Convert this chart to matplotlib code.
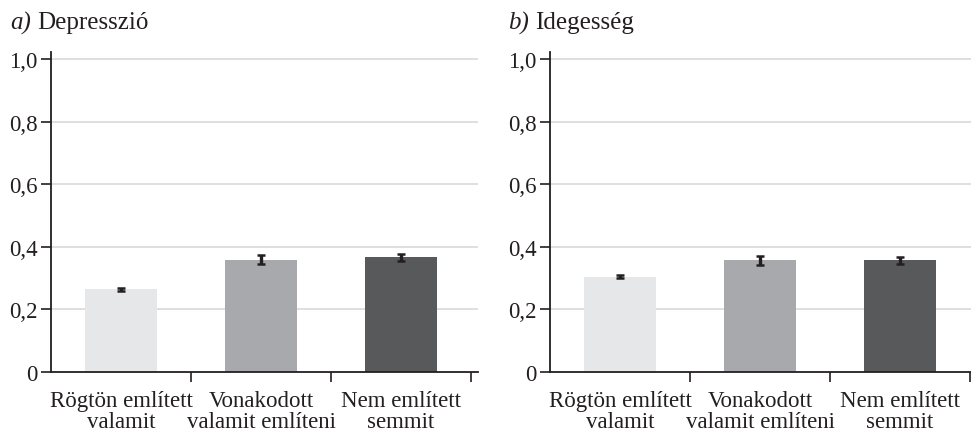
import matplotlib.pyplot as plt
from matplotlib.ticker import FixedLocator, FuncFormatter

# Data
categories = ["Rögtön említett\nvalamit", "Vonakodott\nvalamit említeni", "Nem említett\nsemmit"]
dep_values = [0.264, 0.359, 0.366]
dep_errors = [0.005, 0.014, 0.012]
ideg_values = [0.305, 0.357, 0.357]
ideg_errors = [0.005, 0.015, 0.012]
panel_letters = ["a)", "b)"]
panel_titles = ["Depresszió", "Idegesség"]
yticks = [0, 0.2, 0.4, 0.6, 0.8, 1.0]

bar_colors = ["#e6e7e8", "#a7a9ac", "#58595b"]
ink = "#231f20"
grid_col = "#d9d9d9"

plt.rcParams['font.family'] = ['Liberation Serif', 'DejaVu Serif']

W, H = 971, 435
fig = plt.figure(figsize=(W / 100, H / 100), dpi=100)

px_unit_y = 313
y_top = 1.022
bottom = (H - 373) / H
height = y_top * px_unit_y / H

panels = [
    (51, 2.55, dep_values, dep_errors),
    (550, 2.51, ideg_values, ideg_errors),
]

def fmt(v, pos):
    if abs(v) < 1e-9:
        return "0"
    return f"{v:.1f}".replace(".", ",")

for i, (x0, xr, vals, errs) in enumerate(panels):
    width = (xr + 0.5) * 140 / W
    ax = fig.add_axes([x0 / W, bottom, width, height])
    xs = list(range(len(categories)))
    ax.bar(xs, vals, width=0.515, color=bar_colors, zorder=2)
    ax.errorbar(xs, vals, yerr=errs, fmt="none", ecolor=ink,
                elinewidth=2.4, capsize=3, capthick=1.8, zorder=3)

    ax.set_xlim(-0.5, xr)
    ax.set_ylim(0, y_top)

    # gridlines
    for t in yticks[1:]:
        ax.axhline(t, color=grid_col, lw=1.2, zorder=1)

    ax.yaxis.set_major_locator(FixedLocator(yticks))
    ax.yaxis.set_major_formatter(FuncFormatter(fmt))
    ax.set_xticks(xs)
    ax.set_xticklabels(categories, fontsize=16.5, color=ink, linespacing=1.0)
    ax.xaxis.set_minor_locator(FixedLocator([0.5, 1.5, 2.5]))
    ax.tick_params(axis="x", which="major", length=0, pad=13)
    ax.tick_params(axis="x", which="minor", length=7, width=1.2, color=ink)
    ax.tick_params(axis="y", length=7, width=1.2, color=ink, labelsize=16.5,
                   labelcolor=ink, pad=2.5)

    for s in ["top", "right"]:
        ax.spines[s].set_visible(False)
    for s in ["left", "bottom"]:
        ax.spines[s].set_color(ink)
        ax.spines[s].set_linewidth(1.3)

    tx = (10 if i == 0 else 508) / W
    fig.text(tx, 1 - 23 / H, panel_letters[i], fontsize=18, style="italic",
             color=ink, va="center", ha="left")
    fig.text(tx + 27 / W, 1 - 23 / H, panel_titles[i], fontsize=18,
             color=ink, va="center", ha="left")

fig.savefig("out.png", dpi=100, facecolor="white")
